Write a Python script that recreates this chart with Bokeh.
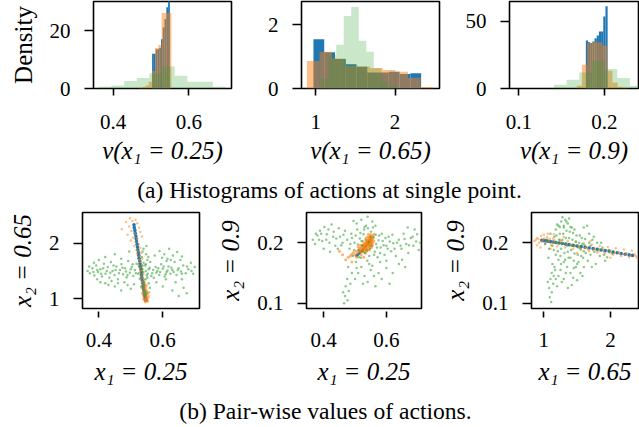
import numpy as np
from bokeh.plotting import figure
from bokeh.models import Range1d, FixedTicker, Label
from bokeh.layouts import column, row
from bokeh.embed import file_html
from bokeh.resources import INLINE

BLUE, ORANGE, GREEN = "#1f77b4", "#ff7f0e", "#2ca02c"
FONT = "Liberation Serif, Times New Roman, serif"

# ---------------- histogram data (density), 10 bins each ----------------
# panel 1: v(x1 = 0.25)
h1_blue_range = (0.503, 0.550)
h1_blue = [12.0, 12.0, 13.5, 13.5, 14.0, 17.0, 21.0, 24.0, 28.0, 32.0]
h1_orange_range = (0.468, 0.554)
h1_orange = [0.3, 0.5, 1.0, 2.3, 6.0, 14.0, 15.0, 26.0, 26.0, 26.0]
h1_green_range = (0.362, 0.697)
h1_green = [0.6, 1.0, 2.6, 3.6, 5.2, 7.6, 4.4, 2.3, 2.3, 0.6]

# panel 2: v(x1 = 0.65)
h2_blue_range = (0.97, 2.33)
h2_blue = [1.54, 1.13, 0.92, 0.76, 0.68, 0.50, 0.50, 0.52, 0.45, 0.48]
h2_orange_range = (0.887, 2.483)
h2_orange = [0.86, 1.15, 0.94, 0.71, 0.69, 0.64, 0.58, 0.52, 0.34, 0.05]
h2_green_range = (1.067, 2.017)
h2_green = [0.32, 1.04, 1.37, 2.27, 2.55, 1.49, 1.15, 0.63, 0.21, 0.10]

# panel 3: v(x1 = 0.9)
h3_blue_range = (0.1784, 0.2039)
h3_blue = [35.8, 34.5, 34.0, 35.0, 37.5, 39.5, 42.5, 42.5, 53.8, 61.3]
h3_orange_range = (0.1678, 0.2275)
h3_orange = [2.0, 17.75, 33.75, 34.5, 34.5, 32.0, 13.25, 4.5, 1.25, 0.5]
h3_green_range = (0.1412, 0.2892)
h3_green = [2.75, 6.5, 12.0, 20.75, 14.5, 7.75, 2.0, 0.5, 0.3, 0.2]

# ---------------- pair-wise scatter data ----------------
# panel 4: x1 = 0.25 (x) vs x2 = 0.65 (y)
s4_blue_x = [0.510, 0.511, 0.513, 0.514, 0.516, 0.517, 0.518, 0.520, 0.521, 0.522, 0.524, 0.525,
             0.526, 0.528, 0.529, 0.530, 0.532, 0.533, 0.534, 0.535, 0.536, 0.538, 0.539, 0.540,
             0.541, 0.542, 0.543, 0.544, 0.545, 0.546, 0.547, 0.548]
s4_blue_y = [2.33, 2.28, 2.23, 2.18, 2.13, 2.08, 2.03, 1.98, 1.93, 1.88, 1.83, 1.78,
             1.73, 1.68, 1.63, 1.58, 1.53, 1.48, 1.43, 1.38, 1.33, 1.28, 1.23, 1.19,
             1.15, 1.11, 1.08, 1.05, 1.02, 1.00, 0.98, 0.97]
s4_orange_x = [0.498, 0.505, 0.515, 0.520, 0.495, 0.526, 0.502, 0.512, 0.530, 0.490, 0.508, 0.520,
               0.535, 0.500, 0.515, 0.525, 0.511, 0.530, 0.518, 0.524, 0.532, 0.520, 0.528, 0.536,
               0.526, 0.531, 0.524, 0.535, 0.529, 0.538, 0.532, 0.527, 0.540, 0.534, 0.538, 0.531,
               0.542, 0.536, 0.540, 0.545, 0.537, 0.543, 0.548, 0.540, 0.545, 0.550, 0.542, 0.547,
               0.552, 0.538, 0.544, 0.549, 0.555, 0.541, 0.546, 0.551, 0.543, 0.548, 0.553, 0.545,
               0.539, 0.556, 0.535, 0.558, 0.533, 0.550, 0.472, 0.485,
               0.544, 0.550, 0.546, 0.552, 0.541, 0.549, 0.554, 0.547, 0.543, 0.551, 0.539, 0.545]
s4_orange_y = [2.45, 2.40, 2.42, 2.36, 2.30, 2.28, 2.22, 2.18, 2.20, 2.15, 2.10, 2.08,
               2.12, 2.05, 2.02, 1.98, 1.95, 1.92, 1.88, 1.85, 1.82, 1.80, 1.76, 1.72,
               1.70, 1.66, 1.62, 1.60, 1.56, 1.53, 1.50, 1.47, 1.45, 1.42, 1.38, 1.36,
               1.34, 1.31, 1.28, 1.26, 1.24, 1.21, 1.19, 1.17, 1.15, 1.13, 1.11, 1.09,
               1.08, 1.06, 1.05, 1.03, 1.02, 1.01, 0.99, 0.98, 0.97, 0.96, 0.95, 0.94,
               0.99, 1.05, 1.10, 1.12, 1.20, 1.24, 2.25, 2.38,
               1.07, 1.04, 1.00, 0.97, 1.14, 1.16, 1.10, 1.22, 1.30, 1.00, 1.18, 0.96]
s4_green_x = [0.365, 0.372, 0.380, 0.386, 0.392, 0.398, 0.405, 0.410, 0.416, 0.421, 0.428, 0.433,
              0.438, 0.443, 0.449, 0.455, 0.460, 0.466, 0.471, 0.476, 0.482, 0.487, 0.492, 0.497,
              0.503, 0.508, 0.513, 0.518, 0.523, 0.528, 0.534, 0.539, 0.545, 0.550, 0.556, 0.561,
              0.567, 0.572, 0.578, 0.583, 0.589, 0.595, 0.600, 0.606, 0.612, 0.618, 0.624, 0.630,
              0.637, 0.643, 0.650, 0.657, 0.664, 0.672, 0.680, 0.690, 0.700,
              0.540, 0.548, 0.535, 0.552, 0.543, 0.538, 0.550, 0.545, 0.541, 0.556, 0.533,
              0.590, 0.605, 0.620, 0.632, 0.645, 0.660, 0.615, 0.575,
              0.420, 0.450, 0.470, 0.400, 0.495,
              0.420, 0.450, 0.480, 0.500, 0.510, 0.470, 0.580, 0.600, 0.630, 0.650, 0.640,
              0.665, 0.560, 0.440, 0.395,
              0.370, 0.383, 0.395, 0.407, 0.414, 0.425, 0.436, 0.446, 0.452, 0.463, 0.474, 0.485,
              0.490, 0.500, 0.506, 0.516, 0.526, 0.531, 0.537, 0.547, 0.553, 0.559, 0.564, 0.570,
              0.580, 0.586, 0.592, 0.603, 0.609, 0.615, 0.627, 0.634, 0.647, 0.660, 0.676, 0.695,
              0.546, 0.552, 0.540, 0.547, 0.555, 0.537, 0.549, 0.544, 0.548,
              0.612, 0.625, 0.598, 0.655, 0.688, 0.385, 0.405, 0.430, 0.460, 0.490, 0.610, 0.660,
              0.675]
s4_green_y = [1.50, 1.46, 1.55, 1.42, 1.60, 1.48, 1.53, 1.40, 1.63, 1.45, 1.57, 1.38,
              1.66, 1.50, 1.43, 1.58, 1.35, 1.52, 1.62, 1.44, 1.55, 1.39, 1.68, 1.47,
              1.57, 1.41, 1.52, 1.63, 1.45, 1.36, 1.55, 1.48, 1.60, 1.42, 1.53, 1.66,
              1.46, 1.38, 1.57, 1.50, 1.43, 1.62, 1.54, 1.40, 1.48, 1.58, 1.45, 1.52,
              1.66, 1.43, 1.55, 1.49, 1.60, 1.46, 1.53, 1.50, 1.57,
              1.90, 1.80, 1.75, 1.70, 1.25, 1.18, 1.12, 1.05, 1.30, 1.28, 1.22,
              1.86, 1.80, 1.90, 1.78, 1.84, 1.76, 1.72, 1.78,
              1.75, 1.80, 1.72, 1.70, 1.85,
              1.28, 1.22, 1.30, 1.18, 1.26, 1.15, 1.30, 1.22, 1.15, 1.05, 1.30,
              1.20, 1.20, 1.32, 1.35,
              1.58, 1.48, 1.52, 1.45, 1.55, 1.50, 1.47, 1.60, 1.52, 1.46, 1.56, 1.49,
              1.43, 1.53, 1.62, 1.46, 1.58, 1.42, 1.60, 1.50, 1.45, 1.56, 1.41, 1.52,
              1.47, 1.55, 1.48, 1.58, 1.44, 1.51, 1.56, 1.48, 1.52, 1.45, 1.58, 1.45,
              1.35, 1.38, 1.65, 1.62, 1.75, 1.85, 1.95, 1.15, 1.08,
              1.68, 1.70, 1.74, 1.70, 1.65, 1.65, 1.30, 1.25, 1.28, 1.25, 1.35, 1.35,
              1.10]

# panel 5: x1 = 0.25 (x) vs x2 = 0.9 (y)
s5_blue_x = [0.505, 0.510, 0.515, 0.520, 0.525, 0.530, 0.535, 0.540, 0.545, 0.549]
s5_blue_y = [0.179, 0.181, 0.184, 0.186, 0.189, 0.192, 0.195, 0.198, 0.201, 0.204]
s5_orange_x = [0.470, 0.478, 0.485, 0.490, 0.495, 0.500, 0.504, 0.508, 0.512, 0.515, 0.518, 0.521,
               0.524, 0.527, 0.529, 0.532, 0.534, 0.536, 0.538, 0.540, 0.542, 0.544, 0.546, 0.548,
               0.550, 0.552, 0.554, 0.556, 0.530, 0.537, 0.545, 0.549, 0.553, 0.541, 0.535, 0.525,
               0.517, 0.510, 0.546, 0.555, 0.560, 0.520, 0.505, 0.460, 0.450, 0.490, 0.560, 0.543,
               0.533, 0.528,
               0.531, 0.534, 0.537, 0.539, 0.541, 0.543, 0.545, 0.547, 0.549, 0.551, 0.553, 0.544,
               0.539, 0.536, 0.532, 0.528, 0.526, 0.522, 0.519, 0.514, 0.548, 0.552, 0.556, 0.540,
               0.546, 0.535, 0.529, 0.523, 0.557, 0.550]
s5_orange_y = [0.172, 0.176, 0.178, 0.181, 0.184, 0.180, 0.186, 0.183, 0.188, 0.191, 0.185, 0.193,
               0.189, 0.196, 0.192, 0.199, 0.194, 0.201, 0.197, 0.203, 0.199, 0.205, 0.201, 0.207,
               0.203, 0.209, 0.205, 0.211, 0.187, 0.190, 0.195, 0.198, 0.199, 0.210, 0.208, 0.202,
               0.196, 0.193, 0.188, 0.196, 0.203, 0.180, 0.176, 0.180, 0.186, 0.168, 0.214, 0.214,
               0.183, 0.176,
               0.195, 0.190, 0.196, 0.193, 0.201, 0.196, 0.203, 0.199, 0.195, 0.206, 0.202, 0.207,
               0.204, 0.186, 0.190, 0.191, 0.185, 0.187, 0.190, 0.186, 0.210, 0.192, 0.200, 0.188,
               0.192, 0.200, 0.198, 0.195, 0.207, 0.213]
s5_green_x = [0.475, 0.482, 0.488, 0.493, 0.498, 0.503, 0.507, 0.511, 0.515, 0.519, 0.523, 0.527,
              0.531, 0.535, 0.539, 0.543, 0.547, 0.551, 0.555, 0.559, 0.563, 0.567, 0.572, 0.577,
              0.582, 0.588, 0.594, 0.600, 0.607, 0.615, 0.622, 0.630,
              0.520, 0.540, 0.555, 0.505, 0.530, 0.565, 0.495,
              0.365, 0.372, 0.380, 0.388, 0.395, 0.402, 0.410, 0.418, 0.425, 0.432, 0.440, 0.448,
              0.456, 0.463, 0.420, 0.445, 0.400,
              0.640, 0.648, 0.655, 0.663, 0.670, 0.678, 0.686, 0.695, 0.703, 0.650, 0.668, 0.690,
              0.640, 0.660,
              0.510, 0.530, 0.550, 0.575, 0.600, 0.620, 0.585, 0.540, 0.500, 0.565, 0.610,
              0.475, 0.470, 0.480, 0.468, 0.476, 0.465, 0.485, 0.462,
              0.485, 0.490, 0.497, 0.502, 0.509, 0.513, 0.517, 0.521, 0.525, 0.529, 0.533, 0.537,
              0.541, 0.545, 0.549, 0.553, 0.557, 0.561, 0.566, 0.570, 0.575, 0.580, 0.585, 0.591,
              0.597, 0.604, 0.611, 0.619, 0.626, 0.634, 0.645, 0.658, 0.672, 0.684, 0.698, 0.708,
              0.375, 0.385, 0.392, 0.408, 0.415, 0.430, 0.437, 0.452, 0.460, 0.468,
              0.520, 0.545, 0.580, 0.505, 0.600, 0.560, 0.525, 0.490, 0.478]
s5_green_y = [0.205, 0.190, 0.215, 0.178, 0.200, 0.168, 0.222, 0.188, 0.207, 0.175, 0.196, 0.214,
              0.183, 0.228, 0.170, 0.201, 0.190, 0.218, 0.162, 0.209, 0.185, 0.198, 0.176, 0.212,
              0.192, 0.203, 0.180, 0.195, 0.210, 0.186, 0.199, 0.178,
              0.238, 0.243, 0.235, 0.232, 0.226, 0.228, 0.236,
              0.205, 0.198, 0.212, 0.220, 0.203, 0.226, 0.214, 0.200, 0.230, 0.218, 0.207, 0.224,
              0.196, 0.213, 0.185, 0.190, 0.190,
              0.205, 0.190, 0.215, 0.198, 0.183, 0.208, 0.195, 0.202, 0.188, 0.172, 0.225, 0.222,
              0.165, 0.160,
              0.150, 0.145, 0.155, 0.150, 0.158, 0.150, 0.140, 0.135, 0.140, 0.128, 0.132,
              0.140, 0.128, 0.120, 0.112, 0.105, 0.100, 0.132, 0.118,
              0.198, 0.208, 0.188, 0.212, 0.197, 0.176, 0.216, 0.203, 0.186, 0.222, 0.205, 0.187,
              0.224, 0.178, 0.210, 0.195, 0.225, 0.180, 0.213, 0.192, 0.204, 0.183, 0.215, 0.196,
              0.208, 0.190, 0.202, 0.213, 0.190, 0.200, 0.195, 0.206, 0.196, 0.210, 0.214, 0.200,
              0.215, 0.205, 0.215, 0.205, 0.222, 0.210, 0.195, 0.210, 0.200, 0.220,
              0.160, 0.165, 0.168, 0.158, 0.170, 0.145, 0.132, 0.150, 0.160]

# panel 6: x1 = 0.65 (x) vs x2 = 0.9 (y)
s6_blue_x = [0.97, 1.00, 1.03, 1.06, 1.10, 1.14, 1.18, 1.23, 1.28, 1.33, 1.38, 1.44, 1.50, 1.56,
             1.62, 1.68, 1.74, 1.80, 1.86, 1.92, 1.98, 2.04, 2.10, 2.16, 2.22, 2.28, 2.33]
s6_blue_y = [0.2040, 0.2035, 0.2030, 0.2025, 0.2018, 0.2011, 0.2004, 0.1995, 0.1986, 0.1977,
             0.1968, 0.1957, 0.1946, 0.1935, 0.1924, 0.1913, 0.1902, 0.1891, 0.1880, 0.1869,
             0.1858, 0.1845, 0.1833, 0.1821, 0.1810, 0.1799, 0.1790]
s6_orange_x = [0.86, 0.90, 0.93, 0.96, 0.99, 1.02, 1.05, 1.08, 1.11, 1.14, 1.17, 1.20, 1.24, 1.28,
               1.32, 1.36, 1.40, 1.44, 1.48, 1.52, 1.56, 1.60, 1.64, 1.68, 1.72, 1.76, 1.80, 1.84,
               1.88, 1.92, 1.96, 2.00, 2.04, 2.08, 2.12, 2.16, 2.20, 2.24, 2.28, 2.32, 2.36, 2.40,
               1.00, 1.10, 1.30, 0.90, 1.06, 1.70, 2.00, 1.50, 1.15, 0.95,
               0.88, 0.92, 0.97, 1.01, 1.04, 1.09, 1.13, 1.16, 1.22, 1.26, 1.34, 1.42, 1.46, 1.54,
               1.62, 1.66, 1.74, 1.82, 1.90, 1.98, 2.06, 2.14, 2.22, 2.30, 2.38]
s6_orange_y = [0.203, 0.208, 0.200, 0.211, 0.205, 0.198, 0.209, 0.203, 0.196, 0.207, 0.201, 0.194,
               0.205, 0.199, 0.192, 0.203, 0.197, 0.190, 0.201, 0.195, 0.188, 0.199, 0.193, 0.186,
               0.197, 0.191, 0.184, 0.195, 0.189, 0.182, 0.193, 0.187, 0.180, 0.191, 0.185, 0.178,
               0.189, 0.183, 0.176, 0.187, 0.181, 0.175,
               0.213, 0.190, 0.210, 0.196, 0.215, 0.203, 0.175, 0.183, 0.214, 0.192,
               0.205, 0.206, 0.202, 0.207, 0.201, 0.206, 0.200, 0.204, 0.198, 0.203, 0.198, 0.196,
               0.194, 0.192, 0.191, 0.189, 0.188, 0.186, 0.185, 0.184, 0.183, 0.182, 0.180, 0.179,
               0.178]
s6_green_x = [1.13, 1.16, 1.18, 1.20, 1.22, 1.24, 1.26, 1.28, 1.30, 1.32, 1.34, 1.36, 1.38, 1.40,
              1.42, 1.44, 1.46, 1.48, 1.50, 1.52, 1.54, 1.56, 1.58, 1.60, 1.62, 1.35, 1.45, 1.25,
              1.55, 1.40,
              1.26, 1.28, 1.30, 1.32, 1.22, 1.36, 1.40, 1.18,
              1.65, 1.68, 1.70, 1.73, 1.76, 1.80, 1.84, 1.88, 1.92, 1.97, 1.66, 1.72, 1.78, 2.02,
              1.60,
              1.05, 1.08, 1.10, 1.02, 1.07,
              1.12, 1.10, 1.14, 1.08, 1.12, 1.09, 1.11, 1.15, 1.18, 1.20, 1.16, 1.06,
              1.30, 1.42, 1.50, 1.58, 1.36,
              1.15, 1.17, 1.19, 1.21, 1.23, 1.25, 1.27, 1.29, 1.31, 1.33, 1.35, 1.37, 1.39, 1.41,
              1.43, 1.45, 1.47, 1.49, 1.51, 1.53, 1.55, 1.57, 1.59, 1.61, 1.63, 1.30, 1.34, 1.38,
              1.24, 1.20, 1.42, 1.46, 1.68, 1.75, 1.82, 1.90, 1.86, 1.95, 1.70, 1.26, 1.32, 1.48,
              1.52, 1.60, 1.13, 1.17, 1.22, 1.27, 1.33, 1.44]
s6_green_y = [0.195, 0.210, 0.180, 0.200, 0.172, 0.215, 0.190, 0.205, 0.168, 0.198, 0.220, 0.185,
              0.208, 0.175, 0.195, 0.216, 0.182, 0.202, 0.165, 0.192, 0.212, 0.178, 0.198, 0.186,
              0.206, 0.160, 0.158, 0.155, 0.150, 0.150,
              0.235, 0.242, 0.228, 0.238, 0.228, 0.232, 0.226, 0.222,
              0.228, 0.215, 0.195, 0.205, 0.185, 0.200, 0.178, 0.192, 0.170, 0.188, 0.170, 0.160,
              0.165, 0.182, 0.225,
              0.205, 0.190, 0.215, 0.198, 0.175,
              0.150, 0.140, 0.132, 0.125, 0.118, 0.110, 0.102, 0.145, 0.140, 0.128, 0.160, 0.135,
              0.140, 0.130, 0.138, 0.145, 0.125,
              0.188, 0.200, 0.212, 0.186, 0.205, 0.178, 0.198, 0.215, 0.183, 0.208, 0.195, 0.175,
              0.218, 0.188, 0.205, 0.170, 0.195, 0.212, 0.180, 0.200, 0.190, 0.208, 0.175, 0.196,
              0.183, 0.225, 0.235, 0.240, 0.226, 0.230, 0.225, 0.222, 0.200, 0.210, 0.190, 0.180,
              0.200, 0.176, 0.180, 0.165, 0.172, 0.160, 0.168, 0.160, 0.165, 0.155, 0.145, 0.135,
              0.150, 0.142]


def style_axes(p, xticks, yticks, xlabel=None, ylabel=None, xtick_in=0, xtick_out=7,
               xstand=19, xlab_stand=5):
    p.grid.visible = False
    p.outline_line_color = "black"
    p.outline_line_width = 1.6
    p.outline_line_alpha = 1.0
    p.background_fill_color = "white"
    p.border_fill_color = "white"
    p.xaxis.ticker = FixedTicker(ticks=xticks)
    p.yaxis.ticker = FixedTicker(ticks=yticks)
    for ax in (p.xaxis[0], p.yaxis[0]):
        ax.axis_line_color = None
        ax.major_tick_line_color = "black"
        ax.major_tick_line_width = 1.6
        ax.minor_tick_line_color = None
        ax.major_label_text_font = FONT
        ax.major_label_text_font_size = "21px"
        ax.major_label_text_color = "black"
        ax.axis_label_text_font = FONT
        ax.axis_label_text_font_size = "25px"
        ax.axis_label_text_color = "black"
    p.xaxis.major_tick_in = xtick_in
    p.xaxis.major_tick_out = xtick_out
    p.xaxis.major_label_standoff = xstand
    p.yaxis.major_tick_in = 0
    p.yaxis.major_tick_out = 9
    p.yaxis.major_label_standoff = 14
    if xlabel:
        p.xaxis.axis_label = xlabel
        p.xaxis.axis_label_standoff = xlab_stand
        p.xaxis.axis_label_text_font_style = "italic"
    if ylabel:
        p.yaxis.axis_label = ylabel
        p.yaxis.axis_label_standoff = 10
        p.yaxis.axis_label_text_font_style = "normal" if ylabel == "Density" else "italic"


def hist(p, rng, heights, color, alpha):
    edges = np.linspace(rng[0], rng[1], len(heights) + 1)
    p.quad(left=edges[:-1], right=edges[1:], bottom=0, top=heights,
           fill_color=color, fill_alpha=alpha, line_color=None)


def make(w, h, xr, yr, lb, rb, tb, bb):
    return figure(width=w, height=h, x_range=Range1d(*xr), y_range=Range1d(*yr),
                  output_backend="svg", toolbar_location=None,
                  min_border_left=lb, min_border_right=rb,
                  min_border_top=tb, min_border_bottom=bb)


# ---------------- top row ----------------
p1 = make(240, 170, (0.348, 0.713), (0, 30.0), 93, 9, 1, 82)
hist(p1, h1_blue_range, h1_blue, BLUE, 1.0)
hist(p1, h1_orange_range, h1_orange, ORANGE, 0.5)
hist(p1, h1_green_range, h1_green, GREEN, 0.25)
style_axes(p1, [0.4, 0.6], [0, 20], "v(x\u2081 = 0.25)", "Density")

p2 = make(201, 170, (0.819, 2.562), (0, 2.72), 61, 2, 1, 82)
hist(p2, h2_blue_range, h2_blue, BLUE, 1.0)
hist(p2, h2_orange_range, h2_orange, ORANGE, 0.5)
hist(p2, h2_green_range, h2_green, GREEN, 0.25)
style_axes(p2, [1, 2], [0, 2], "v(x\u2081 = 0.65)")

p3 = make(198, 170, (0.0891, 0.240), (0, 64.9), 68, 1, 1, 82)
hist(p3, h3_blue_range, h3_blue, BLUE, 1.0)
hist(p3, h3_orange_range, h3_orange, ORANGE, 0.5)
hist(p3, h3_green_range, h3_green, GREEN, 0.25)
style_axes(p3, [0.1, 0.2], [0, 50], "v(x\u2081 = 0.9)")


def scatter(p, xs, ys, color, size, alpha):
    p.scatter(xs, ys, size=size, fill_color=color, fill_alpha=alpha, line_color=None)


# ---------------- bottom row ----------------
p4 = make(201, 188, (0.349, 0.715), (0.826, 2.552), 82, 2, 8, 84)
scatter(p4, s4_blue_x, s4_blue_y, BLUE, 3.6, 1.0)
scatter(p4, s4_orange_x, s4_orange_y, ORANGE, 2.5, 0.5)
scatter(p4, s4_green_x, s4_green_y, GREEN, 2.5, 0.55)
style_axes(p4, [0.4, 0.6], [1, 2], "x\u2081 = 0.25", "x\u2082 = 0.65", xtick_in=-3, xtick_out=9,
           xstand=15, xlab_stand=8)

p5 = make(222, 188, (0.345, 0.712), (0.0912, 0.250), 105, 2, 8, 84)
scatter(p5, s5_blue_x, s5_blue_y, BLUE, 3.0, 1.0)
scatter(p5, s5_orange_x, s5_orange_y, ORANGE, 3.0, 0.6)
scatter(p5, s5_green_x, s5_green_y, GREEN, 2.5, 0.55)
style_axes(p5, [0.4, 0.6], [0.1, 0.2], "x\u2081 = 0.25", "x\u2082 = 0.9", xtick_in=-3, xtick_out=9,
           xstand=15, xlab_stand=8)

p6 = make(216, 188, (0.816, 2.42), (0.0912, 0.250), 108, 1, 8, 84)
scatter(p6, s6_blue_x, s6_blue_y, BLUE, 3.6, 1.0)
scatter(p6, s6_orange_x, s6_orange_y, ORANGE, 2.5, 0.5)
scatter(p6, s6_green_x, s6_green_y, GREEN, 2.5, 0.55)
style_axes(p6, [1, 2], [0.1, 0.2], "x\u2081 = 0.65", "x\u2082 = 0.9", xtick_in=-3, xtick_out=9,
           xstand=15, xlab_stand=8)


# ---------------- captions ----------------
def caption(text, h, cx, cy):
    c = figure(width=639, height=h, x_range=Range1d(0, 1), y_range=Range1d(0, 1),
               output_backend="svg", toolbar_location=None,
               x_axis_location=None, y_axis_location=None,
               min_border_left=0, min_border_right=0, min_border_top=0, min_border_bottom=0)
    c.grid.visible = False
    c.outline_line_color = None
    c.add_layout(Label(x=cx, y=cy, x_units="screen", y_units="screen", text=text,
                       text_font=FONT, text_font_size="23.6px", text_color="black",
                       text_align="center", text_baseline="middle"))
    return c


cap_a = caption("(a) Histograms of actions at single point.", 34, 329, 15)
cap_b = caption("(b) Pair-wise values of actions.", 33, 325, 15)

layout = column(row(p1, p2, p3), cap_a, row(p4, p5, p6), cap_b)
open("out.html", "w").write(file_html(layout, INLINE))
